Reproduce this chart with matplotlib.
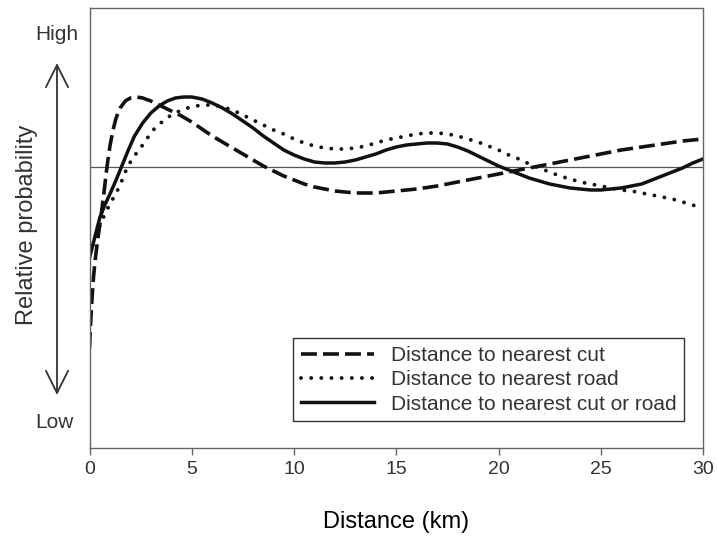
import matplotlib; matplotlib.use("Agg")
import matplotlib.pyplot as plt

plt.rcParams.update({"font.family": "Liberation Sans", "text.color": "#333333",
                     "axes.edgecolor": "#666666", "xtick.color": "#666666", "xtick.labelcolor": "#333333"})

# relative probability (arbitrary units)
cut_x = [0, 0.05, 0.1, 0.15, 0.2, 0.3, 0.4, 0.5, 0.6, 0.7, 0.8, 0.9, 1.0, 1.15, 1.3, 1.5, 1.75, 2.0, 2.3, 2.6, 3.0,
         3.5, 4.0, 4.5, 5.0, 5.5, 6.0, 6.5, 7.0, 7.5, 8.0, 8.5, 9.0, 9.5, 10, 10.5, 11, 11.5, 12, 12.5, 13, 13.5, 14,
         15, 16, 17, 18, 19, 20, 21, 22, 23, 24, 25, 26, 27, 28, 29, 30]
cut_y = [1.00, 1.23, 1.42, 1.58, 1.72, 1.92, 2.08, 2.23, 2.38, 2.54, 2.72, 2.88, 3.02, 3.18, 3.30, 3.40, 3.47, 3.50, 3.51, 3.50, 3.47,
         3.42, 3.37, 3.32, 3.26, 3.19, 3.12, 3.06, 3.00, 2.94, 2.88, 2.82, 2.77, 2.72, 2.68, 2.64, 2.61, 2.59, 2.57, 2.56, 2.55, 2.55, 2.55,
         2.57, 2.59, 2.62, 2.66, 2.70, 2.74, 2.78, 2.82, 2.86, 2.90, 2.94, 2.98, 3.01, 3.04, 3.07, 3.09]

road_x = [0, 0.25, 0.5, 0.75, 1.0, 1.25, 1.5, 1.75, 2.0, 2.3, 2.6, 2.9, 3.2, 3.6, 4.0, 4.4, 4.8, 5.2, 5.6, 6.0,
          6.5, 7, 7.5, 8, 8.5, 9, 9.5, 10, 10.5, 11, 11.5, 12, 12.5, 13, 13.5, 14, 14.5, 15, 15.5, 16, 16.5, 17,
          17.5, 18, 18.5, 19, 19.5, 20, 20.5, 21, 21.5, 22, 22.5, 23, 23.5, 24, 24.5, 25, 25.5, 26, 26.5, 27,
          27.5, 28, 28.5, 29, 29.5, 30]
road_y = [1.93, 2.08, 2.22, 2.34, 2.44, 2.53, 2.63, 2.76, 2.86, 2.95, 3.03, 3.12, 3.20, 3.27, 3.33, 3.37, 3.40, 3.42, 3.43, 3.43,
          3.41, 3.38, 3.33, 3.28, 3.23, 3.18, 3.14, 3.09, 3.05, 3.02, 3.00, 2.99, 2.99, 3.00, 3.02, 3.05, 3.08, 3.10, 3.12, 3.14, 3.15, 3.15,
          3.14, 3.12, 3.09, 3.06, 3.02, 2.98, 2.93, 2.89, 2.84, 2.80, 2.76, 2.72, 2.69, 2.66, 2.64, 2.62, 2.60, 2.58, 2.57, 2.55,
          2.53, 2.51, 2.49, 2.46, 2.43, 2.39]

both_x = [0, 0.25, 0.5, 0.75, 1.0, 1.3, 1.6, 1.9, 2.2, 2.6, 3.0, 3.4, 3.8, 4.2, 4.6,
          5.0, 5.5, 6, 6.5, 7, 7.5, 8, 8.5, 9, 9.5, 10, 10.5, 11, 11.5, 12, 12.5, 13, 13.5, 14, 14.5, 15, 15.5,
          16, 16.5, 17, 17.5, 18, 18.5, 19, 19.5, 20, 20.5, 21, 21.5, 22, 22.5, 23, 23.5, 24, 24.5, 25, 25.5,
          26, 26.5, 27, 27.5, 28, 28.5, 29, 29.5, 30]
both_y = [1.90, 2.10, 2.30, 2.43, 2.54, 2.68, 2.83, 2.98, 3.12, 3.25, 3.35, 3.42, 3.47, 3.50, 3.51,
          3.51, 3.49, 3.45, 3.40, 3.34, 3.27, 3.20, 3.12, 3.05, 2.98, 2.93, 2.89, 2.86, 2.85, 2.85, 2.86, 2.88, 2.91, 2.94, 2.98, 3.01, 3.03,
          3.04, 3.05, 3.05, 3.04, 3.01, 2.97, 2.92, 2.87, 2.82, 2.78, 2.74, 2.70, 2.67, 2.64, 2.62, 2.60, 2.59, 2.58, 2.58, 2.59,
          2.60, 2.62, 2.64, 2.68, 2.72, 2.76, 2.80, 2.85, 2.89]

ref = 2.81
labels = ["Distance to nearest cut", "Distance to nearest road", "Distance to nearest cut or road"]

W, H = 717, 537
fig = plt.figure(figsize=(W/100, H/100), dpi=100)
ax = fig.add_axes([89.5/W, 89/H, 613.5/W, 440/H])
ax.axhline(ref, color="#555555", lw=0.9, zorder=1)
ax.plot(cut_x, cut_y, color="#111111", lw=2.6, ls=(0, (4.4, 1.7)), label=labels[0])
ax.plot(road_x, road_y, color="#111111", lw=2.8, ls=(0, (0.01, 2.6)), dash_capstyle="round", label=labels[1])
ax.plot(both_x, both_y, color="#111111", lw=2.5, label=labels[2])
ax.set_xlim(0, 30); ax.set_ylim(0, 4.4)
ax.set_xticks(range(0, 31, 5))
ax.set_yticks([])
ax.tick_params(axis="x", direction="out", length=5, width=1, labelsize=14, pad=4)
for s in ax.spines.values(): s.set_linewidth(1)
ax.set_xlabel("Distance (km)", fontsize=17, labelpad=24)

lg = ax.legend(loc="lower right", bbox_to_anchor=(0.969, 0.061), borderaxespad=0, fontsize=15,
               frameon=True, fancybox=False, edgecolor="#333333", framealpha=1,
               handlelength=3.5, handletextpad=0.82, labelspacing=0.26, borderpad=0.36)
lg.get_frame().set_linewidth(1)

# y axis annotation: arrow with High / Low
fig.text(27/W, 1-225/H, "Relative probability", rotation=90, fontsize=17, ha="center", va="center")
fig.text(57/W, 1-34/H, "High", fontsize=15, ha="center", va="center")
fig.text(54/W, 1-423/H, "Low", fontsize=15, ha="center", va="center")
ax.annotate("", xy=(57, H-63), xytext=(57, H-395), xycoords="figure pixels", textcoords="figure pixels",
            arrowprops=dict(arrowstyle="<->,head_length=0.8,head_width=0.4", mutation_scale=20,
                            color="#333333", lw=1.3, shrinkA=0, shrinkB=0))

fig.savefig("out.png", dpi=100)
